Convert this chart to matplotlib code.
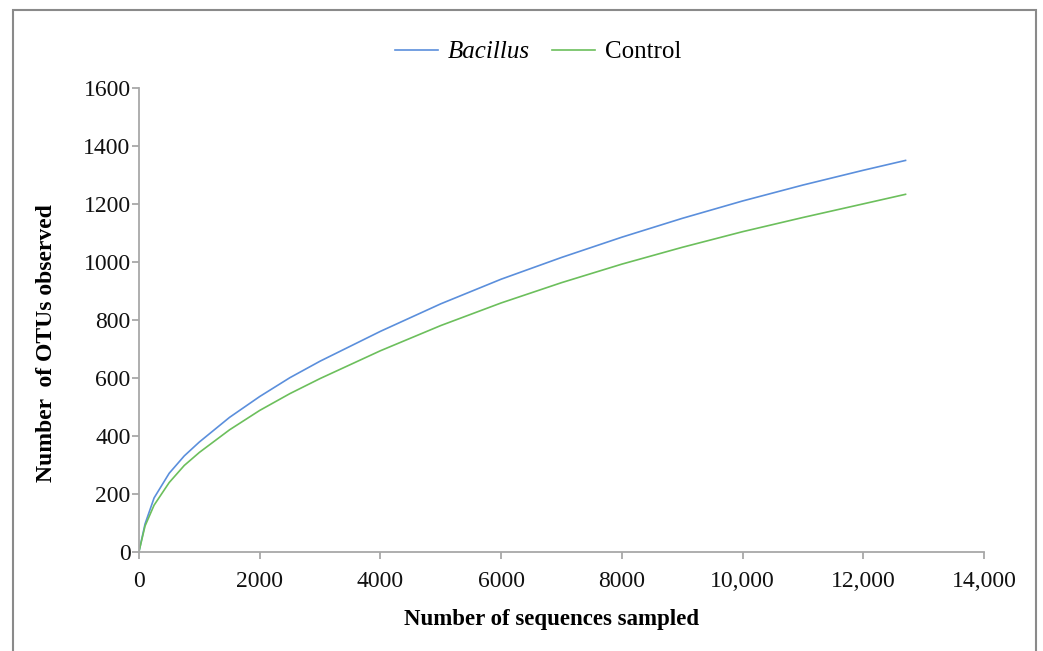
import matplotlib
matplotlib.use("Agg")
import matplotlib.pyplot as plt
from matplotlib.patches import Rectangle

# Data
seqs = [0, 100, 250, 500, 750, 1000, 1500, 2000, 2500, 3000, 4000, 5000,
        6000, 7000, 8000, 9000, 10000, 11000, 12000, 12700]
bacillus = [0, 95, 185, 270, 330, 378, 463, 535, 600, 657, 760, 855,
            940, 1015, 1085, 1150, 1210, 1265, 1316, 1350]
control = [0, 88, 160, 238, 297, 342, 420, 487, 545, 597, 693, 780,
           858, 928, 992, 1050, 1104, 1153, 1200, 1233]

xticks = [0, 2000, 4000, 6000, 8000, 10000, 12000, 14000]
xticklabels = ["0", "2000", "4000", "6000", "8000", "10,000", "12,000", "14,000"]
yticks = [0, 200, 400, 600, 800, 1000, 1200, 1400, 1600]

W, H = 1043, 651
fig = plt.figure(figsize=(W / 100, H / 100), dpi=100)
ax = fig.add_axes([139 / W, 1 - 551.5 / H, 845 / W, 463.5 / H])

blue = "#5b8fdc"
green = "#6cbf5c"
lb, = ax.plot(seqs, bacillus, color=blue, lw=1.2)
lc, = ax.plot(seqs, control, color=green, lw=1.2)

ax.set_xlim(0, 14000)
ax.set_ylim(0, 1600)
ax.set_xticks(xticks)
ax.set_xticklabels(xticklabels)
ax.set_yticks(yticks)

serif = ["Liberation Serif", "DejaVu Serif"]
for lab in ax.get_xticklabels() + ax.get_yticklabels():
    lab.set_fontfamily(serif)
    lab.set_fontsize(17)
    lab.set_color("#111111")

axis_gray = "#a8a8a8"
for s in ["top", "right"]:
    ax.spines[s].set_visible(False)
for s in ["left", "bottom"]:
    ax.spines[s].set_color(axis_gray)
    ax.spines[s].set_linewidth(1.3)
ax.tick_params(axis="both", direction="out", length=5, width=1.3, color=axis_gray)
ax.tick_params(axis="x", pad=9)
ax.tick_params(axis="y", pad=1)

fig.text(552 / W, 1 - 619 / H, "Number of sequences sampled", family=serif,
         fontsize=16.5, fontweight="bold", ha="center", va="center")
fig.text(47 / W, 1 - 343 / H, "Number  of OTUs observed", family=serif,
         fontsize=17, fontweight="bold", ha="center", va="center", rotation=90)

leg = fig.legend([lb, lc], ["Bacillus", "Control"], loc="center",
                 bbox_to_anchor=(538 / W, 1 - 52 / H), ncol=2, frameon=False,
                 handlelength=1.7, columnspacing=0.9, handletextpad=0.4,
                 prop={"family": serif, "size": 18})
leg.get_texts()[0].set_fontstyle("italic")

# outer frame around the figure
fig.patches.append(Rectangle((13 / W, -0.05), (1036 - 13) / W, 1.05 - 10 / H,
                             transform=fig.transFigure, fill=False,
                             edgecolor="#8a8a8a", linewidth=1.5))

fig.savefig("out.png", dpi=100)
